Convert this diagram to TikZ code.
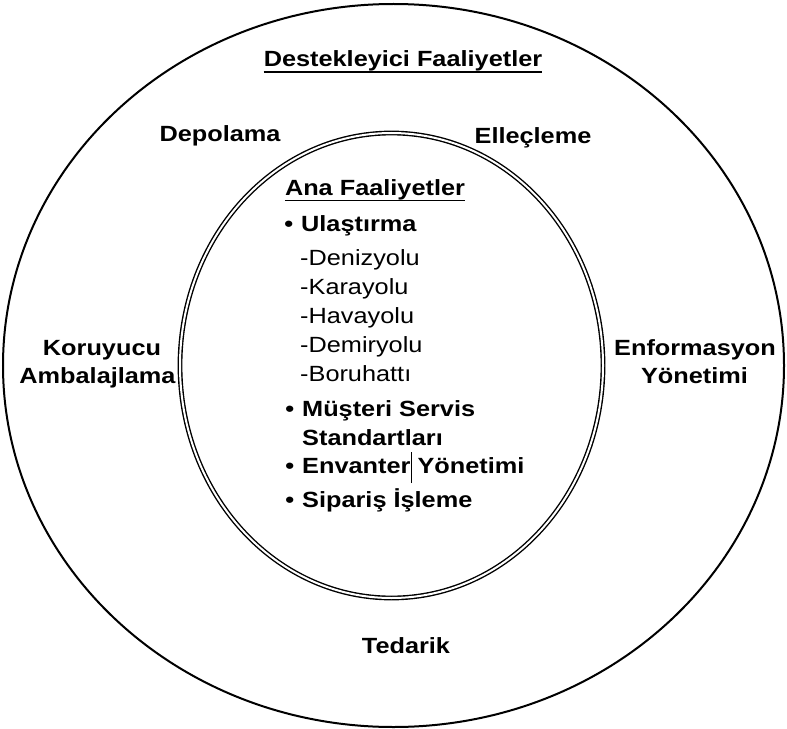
\documentclass[tikz,border=0pt]{standalone}
\usepackage{fontspec}
\setmainfont{Liberation Sans}[FakeStretch=1.15]
\begin{document}
\begin{tikzpicture}[x=1bp,y=-1bp,
  lbl/.style={inner sep=0pt, anchor=base, font=\fontsize{22bp}{26bp}\selectfont\bfseries},
  item/.style={inner sep=0pt, anchor=base west, font=\fontsize{22bp}{26bp}\selectfont\bfseries},
  sub/.style={inner sep=0pt, anchor=base west, font=\fontsize{22bp}{26bp}\selectfont},
  ring/.style={line width=2bp},
  dring/.style={line width=1.4bp, double=white, double distance=2bp},
  uline/.style={line width=1.7bp}]
\useasboundingbox (0,0) rectangle (787,729);

% outer ring and inner double ellipse
\draw[ring] (393.5,365.5) ellipse [x radius=390.5, y radius=361.5];
\draw[dring] (391.5,365.5) ellipse [x radius=211.5, y radius=232.5];

% supporting activities
\node[lbl] (dest) at (403,66.5) {Destekleyici Faaliyetler};
\draw[uline] ([yshift=-5.5bp]dest.base west) -- ([yshift=-5.5bp]dest.base east);
\node[lbl] (depo) at (220,142) {Depolama};
\node[lbl] (elle) at (533,144) {Elleçleme};
\node[lbl] (koru1) at (102,355) {Koruyucu};
\node[lbl] (koru2) at (97.5,383) {Ambalajlama};
\node[lbl] (enf1) at (695,355) {Enformasyon};
\node[lbl] (enf2) at (694.5,383) {Yönetimi};
\node[lbl] (ted) at (406,653) {Tedarik};

% core activities
\node[lbl] (ana) at (375,195) {Ana Faaliyetler};
\draw[uline] ([yshift=-5.5bp]ana.base west) -- ([yshift=-5.5bp]ana.base east);
\node[item] (ul)  at (301,231.5) {\llap{\textbullet\hspace{8bp}}Ulaştırma};
\node[sub]  (den) at (300,265) {-Denizyolu};
\node[sub]  (kar) at (300,294) {-Karayolu};
\node[sub]  (hav) at (300,323) {-Havayolu};
\node[sub]  (dem) at (300,352) {-Demiryolu};
\node[sub]  (bor) at (300,381) {-Boruhattı};
\node[item] (mus) at (302,416.5) {\llap{\textbullet\hspace{8bp}}Müşteri Servis};
\node[item] (std) at (302,445) {Standartları};
\node[item] (env) at (302,473) {\llap{\textbullet\hspace{8bp}}Envanter\rlap{\hspace{1bp}\rule[-10bp]{0.8bp}{31bp}} Yönetimi};
\node[item] (sip) at (302,507) {\llap{\textbullet\hspace{8bp}}Sipariş İşleme};
\end{tikzpicture}
\end{document}
